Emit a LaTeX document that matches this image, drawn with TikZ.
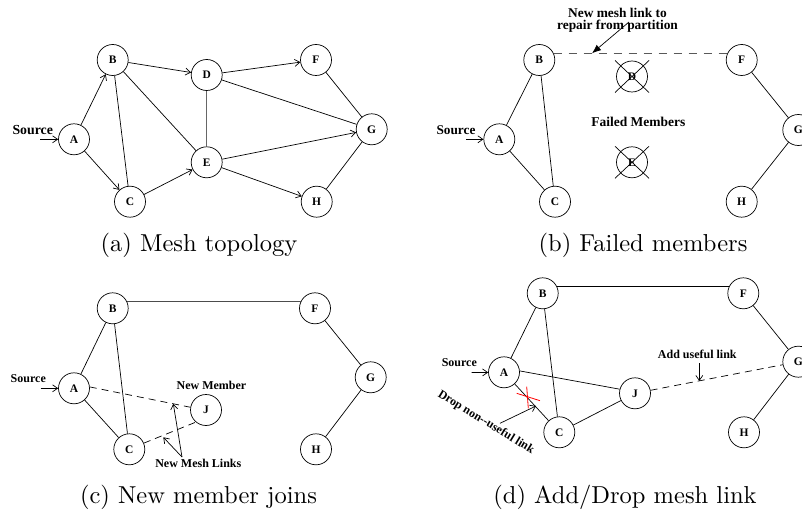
\documentclass[tikz,border=0pt]{standalone}
\usepackage{fontspec}
\usepackage{graphicx}
\newfontfamily\tnr{Liberation Serif}
\usetikzlibrary{arrows.meta}
\tikzset{
  nd/.style={circle,draw,line width=0.7pt,minimum size=31pt,inner sep=0pt,font=\tnr\bfseries\fontsize{11.5}{11.5}\selectfont},
  lbl/.style={inner sep=0pt,align=center},
  ln/.style={line width=0.7pt},
  arr/.style={ln,-{Straight Barb[length=5pt,width=7pt]}},
  glink/.style={ln,black!60},
  dlink/.style={ln,dash pattern=on 7pt off 5pt},
  captext/.style={font=\fontsize{10}{12}\selectfont,anchor=base,inner sep=0pt}
}
\newcommand{\tb}[1]{\tnr\bfseries\fontsize{#1}{#1}\selectfont}
\newcommand{\capbig}[1]{\scalebox{2.45}{#1}}
\begin{document}
\begin{tikzpicture}[x=1pt,y=-1pt]
\useasboundingbox (0,0) rectangle (802,510);
% ---------------- (a) ----------------
\node[nd] (aA) at (74,139.3) {A};
\node[nd] (aB) at (112.7,60) {B};
\node[nd] (aC) at (130,201.7) {C};
\node[nd] (aD) at (206.7,75) {D};
\node[nd] (aE) at (206.7,162.3) {E};
\node[nd] (aF) at (316,60) {F};
\node[nd] (aG) at (371.7,129.3) {G};
\node[nd] (aH) at (316.7,201.7) {H};
\node[lbl,font=\tb{13.8}] (aS) at (32.7,130) {Source};
\coordinate (aSt) at (40,139.3);
\draw[arr] (aSt) -- (aA);
\draw[arr] (aA) -- (aB);
\draw[arr] (aA) -- (aC);
\draw[ln] (aB) -- (aC);
\draw[arr] (aB) -- (aD);
\draw[ln] (aB) -- (aE);
\draw[glink] (aD) -- (aE);
\draw[arr] (aD) -- (aF);
\draw[ln] (aD) -- (aG);
\draw[arr] (aC) -- (aE);
\draw[arr] (aE) -- (aG);
\draw[arr] (aE) -- (aH);
\draw[ln] (aF) -- (aG);
\draw[ln] (aG) -- (aH);
\node[captext] (capa) at (199,252) {\capbig{(a) Mesh topology}};
% ---------------- (b) ----------------
\node[nd] (bA) at (499.3,139.3) {A};
\node[nd] (bB) at (539.3,60) {B};
\node[nd] (bC) at (555,201.7) {C};
\node[nd] (bD) at (632,76.5) {D};
\node[nd] (bE) at (632,162.3) {E};
\node[nd] (bF) at (741.7,60) {F};
\node[nd] (bG) at (798.3,130) {G};
\node[nd] (bH) at (741.7,201.7) {H};
\node[lbl,font=\tb{13.3}] (bS) at (456,130) {Source};
\coordinate (bSt) at (466,139.3);
\draw[arr] (bSt) -- (bA);
\draw[ln] (bA) -- (bB);
\draw[ln] (bA) -- (bC);
\draw[ln] (bB) -- (bC);
\draw[ln] (bF) -- (bG);
\draw[ln] (bG) -- (bH);
\draw[ln,black!65,line width=1.3pt,dash pattern=on 8pt off 7pt] (bB.25) -- (bF.155);
\draw[ln] ([shift={(-17,-16)}]bD.center) -- ([shift={(17,16)}]bD.center);
\draw[ln] ([shift={(17,-16)}]bD.center) -- ([shift={(-17,16)}]bD.center);
\draw[ln] ([shift={(-17,-16)}]bE.center) -- ([shift={(17,16)}]bE.center);
\draw[ln] ([shift={(17,-16)}]bE.center) -- ([shift={(-17,16)}]bE.center);
\node[lbl,font=\tb{13.5}] (bFM) at (638.3,121.7) {Failed Members};
\node[lbl,font=\tb{13.4},execute at begin node={\baselineskip=11.5pt}] (bNL) at (617.5,20.5) {New mesh link to\\repair from partition};
\coordinate (bNt) at (629,22);
\coordinate (bNh) at (592,53.3);
\draw[ln,-{Latex[length=9pt,width=7pt]}] (bNt) -- (bNh);
\node[captext] (capb) at (643,252) {\capbig{(b) Failed members}};
% ---------------- (c) ----------------
\node[nd] (cA) at (74,388.3) {A};
\node[nd] (cB) at (112.7,308.3) {B};
\node[nd] (cC) at (129.3,449.3) {C};
\node[nd] (cF) at (315,308.3) {F};
\node[nd] (cG) at (370.7,377.3) {G};
\node[nd] (cH) at (316,449.3) {H};
\node[nd] (cJ) at (206,410) {J};
\node[lbl,font=\tb{12}] (cS) at (28.3,378.3) {Source};
\coordinate (cSt) at (40.5,388.3);
\draw[arr] (cSt) -- (cA);
\draw[ln] (cA) -- (cB);
\draw[ln] (cA) -- (cC);
\draw[ln] (cB) -- (cC);
\draw[ln,black!70,line width=1pt] (cB.25) -- (cF.155);
\draw[ln] (cF) -- (cG);
\draw[ln] (cG) -- (cH);
\draw[dlink] (cA.5) -- (cJ.170);
\draw[dlink] (cC.23) -- (cJ.230);
\node[lbl,font=\tb{12}] (cNM) at (211.5,385.5) {New Member};
\node[lbl,font=\tb{12}] (cNML) at (198.3,463) {New Mesh Links};
\coordinate (cMt) at (182,457);
\coordinate (cM1) at (173.3,403.8);
\coordinate (cM2) at (163.3,437.3);
\draw[arr] (cMt) -- (cM1);
\draw[arr] (cMt) -- (cM2);
\node[captext] (capc) at (198.5,503) {\capbig{(c) New member joins}};
% ---------------- (d) ----------------
\node[nd] (dA) at (504,372.3) {A};
\node[nd] (dB) at (542.7,293.3) {B};
\node[nd] (dC) at (559.3,432.3) {C};
\node[nd] (dF) at (743.3,293.3) {F};
\node[nd] (dG) at (798.3,361.7) {G};
\node[nd] (dH) at (744,432.3) {H};
\node[nd] (dJ) at (635,393.3) {J};
\node[lbl,font=\tb{12}] (dS) at (459.3,362.5) {Source};
\coordinate (dSt) at (471.5,372.5);
\draw[arr] (dSt) -- (dA);
\draw[ln] (dA) -- (dB);
\draw[ln] (dA) -- (dC);
\draw[ln] (dB) -- (dC);
\draw[ln] (dB.25) -- (dF.155);
\draw[ln] (dA.5) -- (dJ.165);
\draw[ln] (dC) -- (dJ);
\draw[ln] (dF) -- (dG);
\draw[ln] (dG) -- (dH);
\draw[dlink] (dJ) -- (dG);
\coordinate (dX) at (527.7,396.7);
\draw[ln,red,line width=0.8pt] ([shift={(-11,-3.4)}]dX) -- ([shift={(12.3,4)}]dX);
\draw[ln,red,line width=0.8pt] ([shift={(-1,-10)}]dX) -- ([shift={(0.6,11.6)}]dX);
\node[lbl,font=\tb{12},rotate=-31.5] (dDrop) at (486,422.5) {Drop non--useful link};
\coordinate (dDt) at (500,423.3);
\coordinate (dDh) at (536,406);
\draw[arr] (dDt) -- (dDh);
\node[lbl,font=\tb{12}] (dAdd) at (697.3,354.3) {Add useful link};
\coordinate (dAt) at (699.3,363);
\coordinate (dAh) at (699.3,381);
\draw[arr] (dAt) -- (dAh);
\node[captext] (capd) at (625,503) {\capbig{(d) Add/Drop mesh link}};
\end{tikzpicture}
\end{document}
